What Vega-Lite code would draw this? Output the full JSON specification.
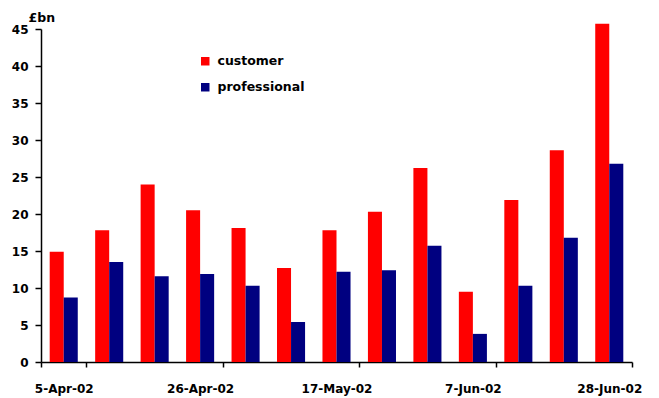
{
  "$schema": "https://vega.github.io/schema/vega-lite/v6.json",
  "width": 591,
  "height": 333,
  "autosize": {"type": "none"},
  "padding": {"left": 41, "top": 29, "right": 27, "bottom": 36},
  "background": "white",
  "data": {
    "values": [
      {"week": "5-Apr-02", "series": "customer", "value": 14.9},
      {"week": "5-Apr-02", "series": "professional", "value": 8.7},
      {"week": "12-Apr-02", "series": "customer", "value": 17.8},
      {"week": "12-Apr-02", "series": "professional", "value": 13.5},
      {"week": "19-Apr-02", "series": "customer", "value": 24.0},
      {"week": "19-Apr-02", "series": "professional", "value": 11.6},
      {"week": "26-Apr-02", "series": "customer", "value": 20.5},
      {"week": "26-Apr-02", "series": "professional", "value": 11.9},
      {"week": "3-May-02", "series": "customer", "value": 18.1},
      {"week": "3-May-02", "series": "professional", "value": 10.3},
      {"week": "10-May-02", "series": "customer", "value": 12.7},
      {"week": "10-May-02", "series": "professional", "value": 5.4},
      {"week": "17-May-02", "series": "customer", "value": 17.8},
      {"week": "17-May-02", "series": "professional", "value": 12.2},
      {"week": "24-May-02", "series": "customer", "value": 20.3},
      {"week": "24-May-02", "series": "professional", "value": 12.4},
      {"week": "31-May-02", "series": "customer", "value": 26.2},
      {"week": "31-May-02", "series": "professional", "value": 15.7},
      {"week": "7-Jun-02", "series": "customer", "value": 9.5},
      {"week": "7-Jun-02", "series": "professional", "value": 3.8},
      {"week": "14-Jun-02", "series": "customer", "value": 21.9},
      {"week": "14-Jun-02", "series": "professional", "value": 10.3},
      {"week": "21-Jun-02", "series": "customer", "value": 28.6},
      {"week": "21-Jun-02", "series": "professional", "value": 16.8},
      {"week": "28-Jun-02", "series": "customer", "value": 45.7},
      {"week": "28-Jun-02", "series": "professional", "value": 26.8}
    ]
  },
  "mark": {"type": "bar", "clip": false},
  "encoding": {
    "x": {
      "field": "week",
      "type": "ordinal",
      "sort": null,
      "scale": {"paddingInner": 0, "paddingOuter": 0},
      "axis": {
        "title": null,
        "values": ["5-Apr-02", "26-Apr-02", "17-May-02", "7-Jun-02", "28-Jun-02"],
        "tickBand": "extent",
        "tickExtra": false,
        "labelAngle": 0,
        "labelFont": "DejaVu Sans",
        "labelFontWeight": "bold",
        "labelFontSize": 12,
        "labelColor": "black",
        "labelPadding": 16,
        "domainColor": "black",
        "domainWidth": 1.5,
        "tickColor": "black",
        "tickWidth": 1.5,
        "tickSize": 5,
        "grid": false
      }
    },
    "xOffset": {
      "field": "series",
      "type": "nominal",
      "sort": ["customer", "professional"],
      "scale": {"paddingInner": 0, "paddingOuter": 0.62}
    },
    "y": {
      "field": "value",
      "type": "quantitative",
      "scale": {"domain": [0, 45], "nice": false},
      "axis": {
        "title": "£bn",
        "titleAngle": 0,
        "titleAlign": "left",
        "titleBaseline": "alphabetic",
        "titleX": -13,
        "titleY": -8,
        "titleFont": "DejaVu Sans",
        "titleFontWeight": "bold",
        "titleFontSize": 12.5,
        "titleColor": "black",
        "values": [0, 5, 10, 15, 20, 25, 30, 35, 40, 45],
        "labelFont": "DejaVu Sans",
        "labelFontWeight": "bold",
        "labelFontSize": 12,
        "labelColor": "black",
        "labelPadding": 7,
        "domainColor": "black",
        "domainWidth": 1.5,
        "tickColor": "black",
        "tickWidth": 1.5,
        "tickSize": 6,
        "grid": false
      }
    },
    "color": {
      "field": "series",
      "type": "nominal",
      "sort": ["customer", "professional"],
      "scale": {"domain": ["customer", "professional"], "range": ["#FF0000", "#000080"]},
      "legend": {
        "title": null,
        "orient": "none",
        "legendX": 158,
        "legendY": 26,
        "padding": 0,
        "symbolType": "square",
        "symbolSize": 72,
        "symbolStrokeWidth": 0,
        "symbolOpacity": 1,
        "labelFont": "DejaVu Sans",
        "labelFontWeight": "bold",
        "labelFontSize": 12.5,
        "labelColor": "black",
        "labelOffset": 6,
        "rowPadding": 13
      }
    }
  },
  "config": {
    "view": {"stroke": null}
  }
}
